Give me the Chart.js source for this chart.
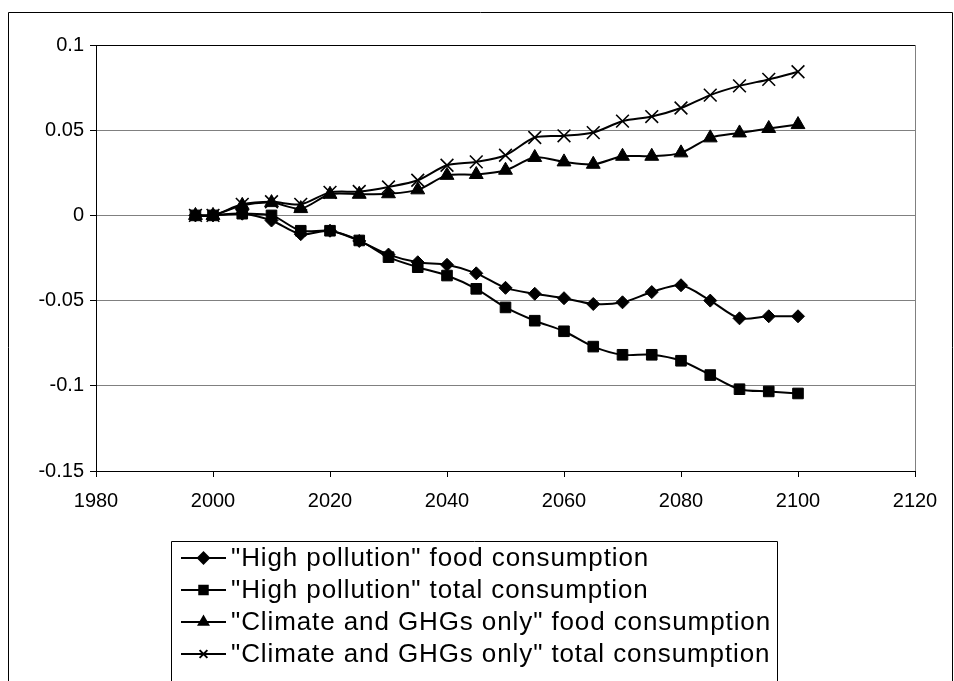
<!DOCTYPE html>
<html>
<head>
<meta charset="utf-8">
<script src="https://cdn.jsdelivr.net/npm/chart.js@4"></script>
<style>
  html, body { margin: 0; padding: 0; background: #fff; }
  #wrap { width: 954px; height: 681px; }
</style>
</head>
<body>
<div id="wrap"><canvas id="chart" width="954" height="681"></canvas></div>
<script>
// years of the scenario runs
var years = [1997, 2000, 2005, 2010, 2015, 2020, 2025, 2030, 2035, 2040, 2045,
             2050, 2055, 2060, 2065, 2070, 2075, 2080, 2085, 2090, 2095, 2100];

var hpFood = [0, 0, 0.001, -0.003, -0.011, -0.009, -0.015, -0.023, -0.0275, -0.029, -0.034,
              -0.0425, -0.046, -0.0486, -0.052, -0.051, -0.045, -0.041, -0.05, -0.0604, -0.0592, -0.0592];
var hpTotal = [0, 0, 0.001, 0, -0.009, -0.009, -0.0147, -0.0245, -0.0304, -0.0353, -0.0431,
               -0.054, -0.0618, -0.068, -0.077, -0.0818, -0.0818, -0.0853, -0.0937, -0.102, -0.1033, -0.1045];
var climFood = [0, 0, 0.0059, 0.0075, 0.004, 0.0124, 0.0124, 0.0127, 0.015, 0.0235, 0.024,
                0.0265, 0.034, 0.0314, 0.030, 0.0347, 0.0347, 0.0367, 0.0455, 0.0484, 0.051, 0.0533];
var climTotal = [0, 0, 0.0065, 0.008, 0.0065, 0.0135, 0.014, 0.0167, 0.0206, 0.0294, 0.0314,
                 0.0353, 0.0457, 0.0467, 0.0486, 0.0553, 0.058, 0.063, 0.0706, 0.076, 0.0798, 0.0843];

var seriesNames = ['"High pollution" food consumption', '"High pollution" total consumption',
                   '"Climate and GHGs only" food consumption', '"Climate and GHGs only" total consumption'];

var xTicks = [1980, 2000, 2020, 2040, 2060, 2080, 2100, 2120];
var yTicks = [-0.15, -0.1, -0.05, 0, 0.05, 0.1];

function pts(vals) {
  return vals.map(function(v, i) { return { x: years[i], y: v }; });
}

function ds(label, vals, style, r) {
  return {
    label: label,
    data: pts(vals),
    borderColor: '#000',
    borderWidth: 2,
    backgroundColor: '#000',
    pointStyle: style,
    pointRadius: r,
    pointBackgroundColor: '#000',
    pointBorderColor: '#000',
    pointBorderWidth: style === 'crossRot' ? 1.6 : 1,
    tension: 0.3
  };
}

// frame around whole chart, right edge of plot and the legend box
var extras = {
  id: 'extras',
  afterDraw: function(chart) {
    var ctx = chart.ctx, a = chart.chartArea;
    ctx.save();
    ctx.strokeStyle = '#000';
    ctx.lineWidth = 1;
    ctx.beginPath();
    ctx.moveTo(8.5, 690); ctx.lineTo(8.5, 12.5); ctx.lineTo(952.5, 12.5); ctx.lineTo(952.5, 690);
    ctx.stroke();

    ctx.strokeStyle = '#808080';
    ctx.beginPath();
    ctx.moveTo(a.right + 0.5, a.top); ctx.lineTo(a.right + 0.5, a.bottom);
    ctx.stroke();

    // legend
    var bx = 171, by = 541, bw = 606;
    ctx.strokeStyle = '#000';
    ctx.beginPath();
    ctx.moveTo(bx + 0.5, 690); ctx.lineTo(bx + 0.5, by + 0.5); ctx.lineTo(bx + bw + 0.5, by + 0.5); ctx.lineTo(bx + bw + 0.5, 690);
    ctx.stroke();
    ctx.font = '26px "Liberation Sans", Arial, sans-serif';
    ctx.letterSpacing = '0.9px';
    ctx.textBaseline = 'middle';
    ctx.fillStyle = '#000';
    chart.data.datasets.forEach(function(d, i) {
      var y = 558 + i * 32;
      ctx.strokeStyle = '#000';
      ctx.lineWidth = 2;
      ctx.beginPath();
      ctx.moveTo(181, y); ctx.lineTo(226, y);
      ctx.stroke();
      Chart.helpers.drawPoint(ctx, {
        pointStyle: d.pointStyle,
        radius: d.pointStyle === 'rect' ? 6 : 5.5,
        borderWidth: 1
      }, 203.5, y);
      ctx.fillText(d.label, 231, y + 1);
    });
    ctx.restore();
  }
};

var ctx = document.getElementById('chart');
new Chart(ctx, {
  type: 'line',
  data: {
    datasets: [
      ds(seriesNames[0], hpFood, 'rectRot', 6.5),
      ds(seriesNames[1], hpTotal, 'rect', 7.5),
      ds(seriesNames[2], climFood, 'triangle', 8),
      ds(seriesNames[3], climTotal, 'crossRot', 9)
    ]
  },
  options: {
    responsive: false,
    animation: false,
    devicePixelRatio: 1,
    layout: { padding: { top: 45, right: 39, left: 0, bottom: 0 } },
    plugins: { legend: { display: false }, tooltip: { enabled: false } },
    elements: { point: { backgroundColor: '#000' } },
    scales: {
      x: {
        type: 'linear',
        min: xTicks[0],
        max: xTicks[xTicks.length - 1],
        afterBuildTicks: function(s) { s.ticks = xTicks.map(function(v) { return { value: v }; }); },
        afterFit: function(s) { s.height = 210; },
        ticks: { color: '#000', font: { family: '"Liberation Sans", Arial', size: 20 }, padding: 12, maxRotation: 0,
                 callback: function(v) { return String(v); } },
        grid: { drawOnChartArea: false, tickLength: 6, tickColor: '#000' },
        border: { color: '#000', width: 1 }
      },
      y: {
        min: yTicks[0],
        max: yTicks[yTicks.length - 1],
        afterBuildTicks: function(s) { s.ticks = yTicks.map(function(v) { return { value: v }; }); },
        afterFit: function(s) { s.width = 96; },
        ticks: { color: '#000', font: { family: '"Liberation Sans", Arial', size: 20 }, padding: 6,
                 callback: function(v) { return String(Math.round(v * 100) / 100); } },
        grid: {
          color: function(c) { return c.tick && c.tick.value === 0.1 ? '#000' : '#808080'; },
          lineWidth: 1,
          tickLength: 6,
          tickColor: '#000'
        },
        border: { color: '#000', width: 1 }
      }
    }
  },
  plugins: [extras]
});
</script>
</body>
</html>
